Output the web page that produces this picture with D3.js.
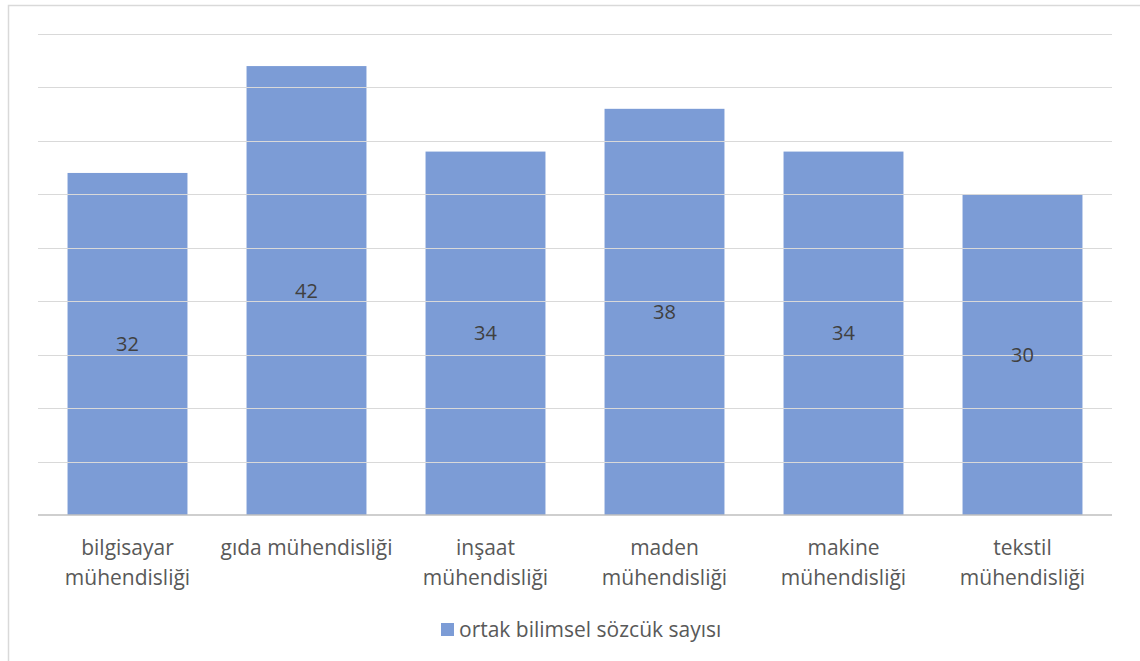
<!DOCTYPE html>
<html>
<head>
<meta charset="utf-8">
<script src="https://cdn.jsdelivr.net/npm/d3@7"></script>
<style>
  body { margin: 0; background: #fff; }
  text { font-family: "Open Sans", "Noto Sans", sans-serif; }
</style>
</head>
<body>
<script>
var width = 1140;
var height = 661;

var categories = [
  ["bilgisayar", "mühendisliği"],
  ["gıda mühendisliği"],
  ["inşaat", "mühendisliği"],
  ["maden", "mühendisliği"],
  ["makine", "mühendisliği"],
  ["tekstil", "mühendisliği"]
];
var values = [32, 42, 34, 38, 34, 30];
var seriesName = "ortak bilimsel sözcük sayısı";
var yTicks = [0, 5, 10, 15, 20, 25, 30, 35, 40, 45];

var svg = d3.select("body")
    .append("svg")
    .attr("width", width)
    .attr("height", height);

// chart frame
svg.append("rect")
    .attr("x", 8.5)
    .attr("y", 5.5)
    .attr("width", 1140)
    .attr("height", 680)
    .attr("fill", "none")
    .attr("stroke", "#d9d9d9")
    .attr("stroke-width", 1.5);

var x = d3.scaleBand()
    .domain(d3.range(categories.length))
    .range([38, 1112])
    .paddingInner(0.33)
    .paddingOuter(0.165);

var y = d3.scaleLinear()
    .domain([0, 45])
    .range([515, 34]);

// bars (semi transparent so grid shows through)
svg.selectAll(".bar")
    .data(values)
    .enter()
    .append("rect")
    .attr("class", "bar")
    .attr("x", function(d, i) { return x(i); })
    .attr("y", function(d) { return y(d); })
    .attr("width", x.bandwidth())
    .attr("height", function(d) { return y(0) - y(d); })
    .attr("fill", "#4472c4")
    .attr("fill-opacity", 0.7);

// gridlines
svg.selectAll(".grid")
    .data(yTicks.slice(1))
    .enter()
    .append("line")
    .attr("x1", 38)
    .attr("x2", 1112)
    .attr("y1", function(d) { return Math.round(y(d)) + 0.5; })
    .attr("y2", function(d) { return Math.round(y(d)) + 0.5; })
    .attr("stroke", "#d9d9d9")
    .attr("stroke-width", 1.2);

// baseline
svg.append("line")
    .attr("x1", 38)
    .attr("x2", 1112)
    .attr("y1", y(0))
    .attr("y2", y(0))
    .attr("stroke", "#bfbfbf")
    .attr("stroke-width", 1.5);

// data labels
svg.selectAll(".lbl")
    .data(values)
    .enter()
    .append("text")
    .attr("x", function(d, i) { return x(i) + x.bandwidth() / 2; })
    .attr("y", function(d) { return (y(d) + y(0)) / 2 + 7; })
    .attr("text-anchor", "middle")
    .attr("font-size", 20)
    .attr("fill", "#404040")
    .text(function(d) { return d; });

// category labels
var cat = svg.selectAll(".cat")
    .data(categories)
    .enter()
    .append("text")
    .attr("text-anchor", "middle")
    .attr("font-size", 21)
    .attr("fill", "#595959");

cat.selectAll("tspan")
    .data(function(d, i) { return d.map(function(s) { return { s: s, i: i }; }); })
    .enter()
    .append("tspan")
    .attr("x", function(d) { return x(d.i) + x.bandwidth() / 2; })
    .attr("y", function(d, j) { return 555 + j * 30; })
    .text(function(d) { return d.s; });

// legend
var legend = svg.append("g");
legend.append("rect")
    .attr("x", 441)
    .attr("y", 623)
    .attr("width", 13)
    .attr("height", 13)
    .attr("fill", "#4472c4")
    .attr("fill-opacity", 0.7);
legend.append("text")
    .attr("x", 459)
    .attr("y", 637)
    .attr("font-size", 21)
    .attr("fill", "#595959")
    .text(seriesName);
</script>
</body>
</html>
